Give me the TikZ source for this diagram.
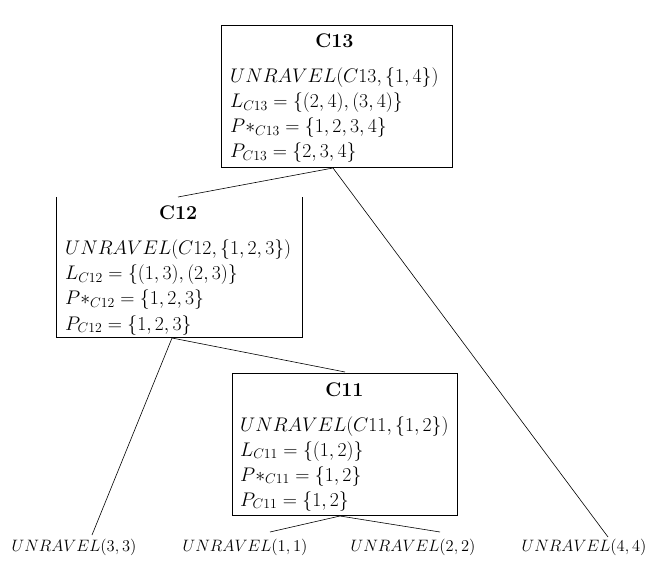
\RequirePackage{fix-cm}
\documentclass[tikz,border=0pt]{standalone}
\usepackage{amsmath}
\tikzset{
 frame/.style={line width=0.9pt},
 conn/.style={line width=0.6pt},
 content/.style={anchor=base west, inner sep=0pt, font=\fontsize{19.7}{25}\selectfont},
 leaf/.style={anchor=base, inner sep=0pt, font=\fontsize{16.5}{20}\selectfont},
 boxshape/.style={rectangle, inner sep=0pt, anchor=north west}
}
\newcommand{\boxtext}[5]{\begin{tabular}[t]{@{}l@{}}\multicolumn{1}{@{}c@{}}{\textbf{#1}}\\[10pt] $#2$\\ $#3$\\ $#4$\\ $#5$\end{tabular}}
\begin{document}
\begin{tikzpicture}[x=1pt,y=1pt]
\useasboundingbox (0,0) rectangle (668,568);
% boxes
\node[boxshape, draw, frame, minimum width=231pt, minimum height=142pt] (b13) at (221,543) {};
\node[boxshape, minimum width=246pt, minimum height=140pt] (b12) at (56,371) {};
\draw[frame] (b12.north west) -- (b12.south west) -- (b12.south east) -- (b12.north east);
\node[boxshape, draw, frame, minimum width=225pt, minimum height=142pt] (b11) at (232,195) {};
% contents
\node[content] (t13) at (230,520) {\boxtext{C13}{UNRAVEL(C13,\{1,4\})}{L_{C13}=\{(2,4),(3,4)\}}{P{\ast}_{C13}=\{1,2,3,4\}}{P_{C13}=\{2,3,4\}}};
\node[content] (t12) at (65,348) {\boxtext{C12}{UNRAVEL(C12,\{1,2,3\})}{L_{C12}=\{(1,3),(2,3)\}}{P{\ast}_{C12}=\{1,2,3\}}{P_{C12}=\{1,2,3\}}};
\node[content] (t11) at (240,172) {\boxtext{C11}{UNRAVEL(C11,\{1,2\})}{L_{C11}=\{(1,2)\}}{P{\ast}_{C11}=\{1,2\}}{P_{C11}=\{1,2\}}};
% leaves
\node[leaf] (u33) at (74,17) {$UNRAVEL(3,3)$};
\node[leaf] (u11) at (245,17) {$UNRAVEL(1,1)$};
\node[leaf] (u22) at (413,17) {$UNRAVEL(2,2)$};
\node[leaf] (u44) at (584,17) {$UNRAVEL(4,4)$};
% connector points
\coordinate (s13) at (333,400);
\coordinate (n12) at (178,371);
\coordinate (s12) at (172,230);
\coordinate (n11) at (345,196);
\coordinate (s11) at (340,52);
\coordinate (e33) at (92,33);
\coordinate (e11) at (270,36);
\coordinate (e22) at (440,36);
\coordinate (e44) at (608,31);
\draw[conn] (s13) -- (n12);
\draw[conn] (s13) -- (e44);
\draw[conn] (s12) -- (n11);
\draw[conn] (s12) -- (e33);
\draw[conn] (s11) -- (e11);
\draw[conn] (s11) -- (e22);
\end{tikzpicture}
\end{document}
